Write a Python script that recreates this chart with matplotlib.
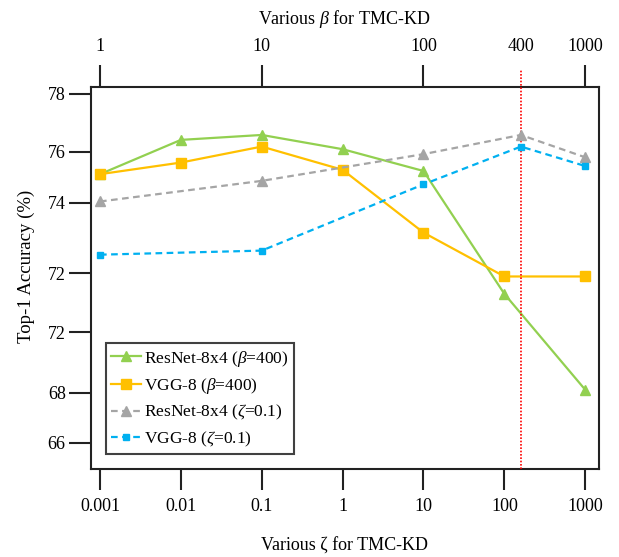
import numpy as np
import matplotlib
matplotlib.use("Agg")
import matplotlib.pyplot as plt
from matplotlib.ticker import FixedLocator, NullLocator

# data
zeta_vals = [0.001, 0.01, 0.1, 1, 10, 100, 1000]
zeta_labels = ["0.001", "0.01", "0.1", "1", "10", "100", "1000"]
resnet_beta400 = [75.24, 76.42, 76.59, 76.10, 75.35, 71.12, 67.82]
vgg_beta400 = [75.24, 75.64, 76.19, 75.39, 73.23, 71.72, 71.72]

beta_vals = [1, 10, 100, 400, 1000]
beta_labels = ["1", "10", "100", "400", "1000"]
resnet_zeta01 = [74.30, 75.01, 75.93, 76.59, 75.82]
vgg_zeta01 = [72.47, 72.61, 74.89, 76.19, 75.52]

# y ticks as printed in the figure (positions are uneven there)
ytick_pos = [78, 76.02, 74.26, 71.83, 69.80, 67.72, 66]
ytick_labels = ["78", "76", "74", "72", "72", "68", "66"]

plt.rcParams["font.family"] = "Liberation Serif"
plt.rcParams["mathtext.fontset"] = "custom"
plt.rcParams["mathtext.rm"] = "Liberation Serif"
plt.rcParams["mathtext.it"] = "Liberation Serif:italic"

green = "#92D050"
orange = "#FFC000"
gray = "#A5A5A5"
blue = "#00B0F0"
spine_col = "#222222"

fig = plt.figure(figsize=(6.19, 5.57), dpi=100)
ax = fig.add_axes([0.1465, 0.158, 0.8212, 0.6858])

ax.set_xscale("log")
ax.set_xlim(10**(-3 - 0.115), 10**(3 + 0.17))
ax.set_ylim(65.095, 78.24)

l1, = ax.plot(zeta_vals, resnet_beta400, color=green, lw=1.6, marker="^", ms=7,
              label=r"ResNet-8x4 ($\beta$=400)")
l2, = ax.plot(zeta_vals, vgg_beta400, color=orange, lw=1.6, marker="s", ms=7,
              label=r"VGG-8 ($\beta$=400)")

ax.xaxis.set_major_locator(FixedLocator(zeta_vals))
ax.xaxis.set_minor_locator(NullLocator())
ax.set_xticklabels(zeta_labels)
ax.set_yticks(ytick_pos)
ax.set_yticklabels(ytick_labels)
ax.tick_params(axis="x", which="major", direction="out", length=15, width=1.5,
               color=spine_col, labelsize=13, pad=6, top=False)
ax.tick_params(axis="y", which="major", direction="out", length=16, width=1.5,
               color=spine_col, labelsize=13, pad=2)
for s in ax.spines.values():
    s.set_linewidth(1.5)
    s.set_color(spine_col)

ax.set_xlabel("Various ζ for TMC-KD", fontsize=13)
ax.xaxis.set_label_coords(0.5, -0.178)
ax.set_ylabel("Top-1 Accuracy (%)", fontsize=13.5)
ax.yaxis.set_label_coords(-0.11, 0.53)

# top axis: beta on a log scale
ax2 = ax.twiny()
ax2.set_xscale("log")
ax2.set_xlim(10**(-0.115 / 2), 10**((6 + 0.17) / 2))
ax2.set_ylim(ax.get_ylim())

l3, = ax2.plot(beta_vals, resnet_zeta01, color=gray, lw=1.6, ls=(0, (3, 2)),
               marker="^", ms=7, label=r"ResNet-8x4 ($\zeta$=0.1)")
l4, = ax2.plot(beta_vals, vgg_zeta01, color=blue, lw=1.6, ls=(0, (3, 2)),
               marker="s", ms=5, label=r"VGG-8 ($\zeta$=0.1)")

ax2.plot([400, 400], [0, 1.045], transform=ax2.get_xaxis_transform(),
         color="red", lw=1.2, ls=(0, (1, 1)), clip_on=False, zorder=1)

ax2.xaxis.set_major_locator(FixedLocator(beta_vals))
ax2.xaxis.set_minor_locator(NullLocator())
ax2.set_xticklabels(beta_labels)
ax2.tick_params(axis="x", which="major", direction="out", length=16, width=1.5,
                color=spine_col, labelsize=13, pad=7)
ax2.xaxis.get_major_ticks()[3].tick2line.set_visible(False)
for s in ax2.spines.values():
    s.set_visible(False)
ax2.set_xlabel(r"Various $\beta$ for TMC-KD", fontsize=13)
ax2.xaxis.set_label_coords(0.5, 1.165)

leg = ax2.legend(handles=[l1, l2, l3, l4], loc="lower left",
                 bbox_to_anchor=(0.03, 0.039), borderaxespad=0,
                 fontsize=12.5, frameon=True, fancybox=False, edgecolor="#111111",
                 handlelength=1.7, handletextpad=0.2, labelspacing=0.42,
                 borderpad=0.3)
leg.get_frame().set_linewidth(1.5)

plt.savefig("out.png", dpi=100)
